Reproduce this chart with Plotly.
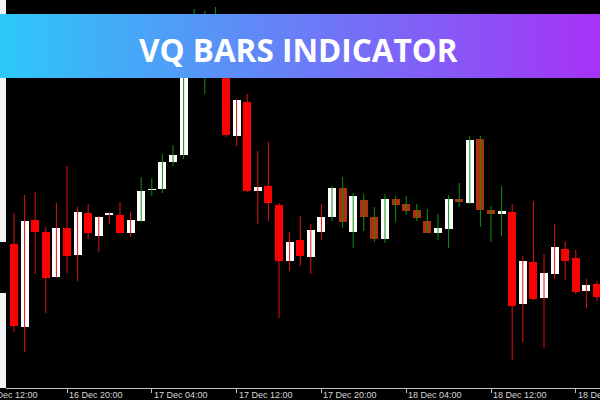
import pandas as pd
import plotly.graph_objects as go

# ---------------- data (H1 candles) ----------------
start_time = "2024-12-16 15:00"
opens = [157.56, 156.73, 157.80, 157.68, 157.23, 157.72, 157.45, 157.87, 157.64, 157.85,
         157.85, 157.67, 157.79, 158.10, 158.11, 158.38, 158.45, 159.32, 159.65, 159.42,
         159.60, 158.64, 158.98, 158.09, 158.14, 157.95, 157.39, 157.60, 157.43, 157.68,
         157.83, 158.12, 157.68, 158.00, 157.83, 157.61, 158.01, 157.96, 157.90, 157.79,
         157.67, 157.71, 158.01, 157.97, 158.61, 157.90, 157.86, 157.88, 156.96, 157.38,
         157.02, 157.26, 157.51, 157.42, 157.09, 157.16]
highs = [157.87, 158.05, 158.08, 157.73, 157.97, 158.34, 157.93, 157.96, 157.84, 157.88,
         157.98, 157.88, 158.23, 158.22, 158.46, 158.55, 159.38, 159.91, 159.89, 159.93,
         159.64, 159.01, 159.06, 158.49, 158.58, 157.97, 157.68, 157.84, 157.76, 157.96,
         158.14, 158.23, 158.07, 158.06, 157.93, 158.06, 158.04, 158.04, 157.96, 157.91,
         157.86, 158.05, 158.17, 158.64, 158.64, 157.94, 158.14, 157.96, 157.44, 157.99,
         157.46, 157.76, 157.59, 157.50, 157.21, 157.19]
lows = [156.68, 156.48, 157.26, 156.87, 157.22, 157.27, 157.19, 157.61, 157.48, 157.76,
        157.67, 157.63, 157.78, 158.04, 158.07, 158.34, 158.41, 159.28, 159.06, 159.38,
        158.63, 158.54, 158.08, 157.76, 157.79, 156.82, 157.29, 157.34, 157.26, 157.60,
        157.79, 157.72, 157.52, 157.69, 157.58, 157.57, 157.78, 157.85, 157.79, 157.67,
        157.60, 157.52, 157.93, 157.96, 157.73, 157.58, 157.64, 156.40, 156.58, 157.00,
        156.52, 157.21, 157.20, 157.06, 156.92, 156.99]
closes = [156.74, 157.79, 157.68, 157.22, 157.72, 157.44, 157.88, 157.67, 157.83, 157.87,
          157.67, 157.80, 158.09, 158.11, 158.38, 158.45, 159.32, 159.65, 159.42, 159.60,
          158.65, 159.00, 158.09, 158.13, 157.97, 157.39, 157.58, 157.44, 157.70, 157.83,
          158.12, 157.78, 158.04, 157.83, 157.61, 158.01, 157.95, 157.89, 157.82, 157.67,
          157.72, 158.01, 157.98, 158.60, 157.90, 157.86, 157.89, 156.94, 157.39, 157.01,
          157.27, 157.53, 157.39, 157.08, 157.15, 157.03]
# VQ trend state per bar: D = down (red), U = up (green)
trend = list("DDDDDDDDDDDDUUUUUUUUDDDDDDDDDDUUUUUUUUUUUUUUUUUDDDDDDDDD")
tick_labels = ["16 Dec 12:00", "16 Dec 20:00", "17 Dec 04:00", "17 Dec 12:00",
               "17 Dec 20:00", "18 Dec 04:00", "18 Dec 12:00", "18 Dec 20:00"]
title_text = "VQ BARS INDICATOR"

# ---------------- styles ----------------
RED = "#ff0000"
RED_WICK = "#e21212"
GREEN_WICK = "#0f8f0f"
BROWN = "#b0300f"
WHITE = "#ffffff"
AXIS_COL = "#bdbdbd"
LABEL_COL = "#d6d6d6"
GRAD_L = (44, 201, 248)
GRAD_R = (166, 50, 246)

W, H = 600, 400
PLOT_LEFT = 6
PLOT_BOTTOM_MARGIN = 12
PLOT_H = H - PLOT_BOTTOM_MARGIN
HOUR_MS = 3600 * 1000

times = pd.date_range(start_time, periods=len(opens), freq="h")
tick_times = [pd.to_datetime("2024 " + s, format="%Y %d %b %H:%M") for s in tick_labels]

# bodies
bases, heights, body_cols = [], [], []
for o, c, tr in zip(opens, closes, trend):
    bases.append(min(o, c))
    heights.append(max(abs(c - o), 0.008))
    if c >= o:
        body_cols.append(WHITE)
    else:
        body_cols.append(RED if tr == "D" else BROWN)

fig = go.Figure()
fig.add_trace(go.Bar(
    x=times, y=heights, base=bases, width=0.74 * HOUR_MS,
    marker=dict(color=body_cols, line=dict(width=0)),
    hoverinfo="skip",
))

# wicks
for state, col in (("D", RED_WICK), ("U", GREEN_WICK)):
    wx, wy = [], []
    for t, lo, hi, tr in zip(times, lows, highs, trend):
        if tr == state:
            wx += [t, t, None]
            wy += [lo, hi, None]
    fig.add_trace(go.Scatter(x=wx, y=wy, mode="lines",
                             line=dict(color=col, width=1), hoverinfo="skip"))

# axis ranges from pixel geometry: first candle centre at x=14px, 10.6 px per bar
px_per_bar = 10.6
first_px = 14
x0 = times[0] + pd.Timedelta(hours=(PLOT_LEFT - first_px) / px_per_bar)
x1 = times[0] + pd.Timedelta(hours=(W - first_px) / px_per_bar)


def time_to_paper(t):
    hours = (t - times[0]) / pd.Timedelta(hours=1)
    return (first_px + hours * px_per_bar) / W


shapes = []
# white strip at the left edge (with dark gap)
shapes.append(dict(type="rect", xref="paper", yref="paper", x0=0, x1=PLOT_LEFT / W,
                   y0=1 - 242 / PLOT_H, y1=1, fillcolor="#f2f2f2", line=dict(width=0), layer="above"))
shapes.append(dict(type="rect", xref="paper", yref="paper", x0=0, x1=PLOT_LEFT / W,
                   y0=0, y1=1 - 293 / PLOT_H, fillcolor="#f2f2f2", line=dict(width=0), layer="above"))

# gradient banner
n = 150
b_top, b_bot = 14, 78
for k in range(n):
    f = (k + 0.5) / n
    r = round(GRAD_L[0] + (GRAD_R[0] - GRAD_L[0]) * f)
    g = round(GRAD_L[1] + (GRAD_R[1] - GRAD_L[1]) * f)
    b = round(GRAD_L[2] + (GRAD_R[2] - GRAD_L[2]) * f)
    shapes.append(dict(type="rect", xref="paper", yref="paper",
                       x0=k / n, x1=min((k + 1.6) / n, 1.0),
                       y0=1 - b_bot / PLOT_H, y1=1 - b_top / PLOT_H,
                       fillcolor=f"rgb({r},{g},{b})", line=dict(width=0), layer="above"))

annotations = [dict(text=title_text, xref="paper", yref="paper", x=298 / W,
                    y=1 - 50 / PLOT_H, xanchor="center", yanchor="middle", showarrow=False,
                    font=dict(family="Open Sans", size=31.5, color="white", weight=700))]
for t, lab in zip(tick_times, tick_labels):
    annotations.append(dict(text=lab, x=time_to_paper(t), xref="paper", y=0, yref="paper",
                            xanchor="left", yanchor="top", xshift=1, yshift=-1,
                            showarrow=False, borderpad=0,
                            font=dict(family="Liberation Sans", size=9, color=LABEL_COL)))

fig.update_layout(
    width=W, height=H, margin=dict(l=0, r=0, t=0, b=PLOT_BOTTOM_MARGIN),
    paper_bgcolor="black", plot_bgcolor="black", showlegend=False,
    barmode="overlay", bargap=0,
    shapes=shapes, annotations=annotations,
    xaxis=dict(type="date", domain=[PLOT_LEFT / W, 1], range=[x0, x1],
               showgrid=False, zeroline=False, showline=True, linecolor=AXIS_COL, linewidth=1,
               ticks="outside", tickvals=tick_times, ticklen=4, tickcolor=AXIS_COL,
               showticklabels=False),
    yaxis=dict(range=[156.12, 160.00], showgrid=False, zeroline=False, visible=False),
)

fig.write_html("out.html", config={"displayModeBar": False},
               post_script="document.body.style.margin='0';document.body.style.overflow='hidden';")
